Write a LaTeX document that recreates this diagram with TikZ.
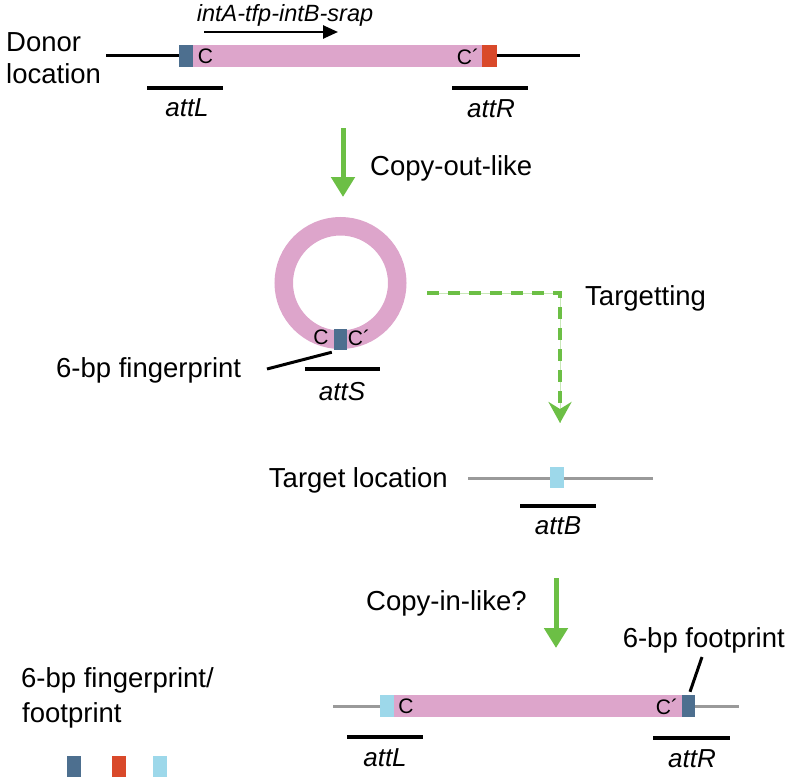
\documentclass[tikz,border=0pt]{standalone}
\usepackage{fontspec}
\setmainfont{Liberation Sans}
\usetikzlibrary{arrows.meta}
\definecolor{cpink}{HTML}{DDA5CB}
\definecolor{cblue}{HTML}{4D6F8F}
\definecolor{cred}{HTML}{D9492A}
\definecolor{clblue}{HTML}{9DD8EA}
\definecolor{cgreen}{HTML}{6CBF45}
\definecolor{cgray}{HTML}{9A9A9A}
\definecolor{cgreenl}{HTML}{C8E8B8}
\tikzset{
  lbl/.style={font=\fontsize{27.5}{32}\selectfont, inner sep=0pt},
  attlbl/.style={font=\fontsize{26}{30}\selectfont\itshape, inner sep=0pt},
  clbl/.style={font=\fontsize{21}{24}\selectfont, inner sep=0pt},
  site/.style={rectangle, draw=none, inner sep=0pt, minimum height=22pt},
  dna/.style={line width=3pt, black},
  gdna/.style={line width=3pt, cgray},
  attbar/.style={line width=3.5pt, black},
  ptr/.style={line width=3pt, black},
  garrow/.style={draw=cgreen, line width=5pt, -{Triangle[width=23pt,length=20pt]}},
  darrow/.style={draw=cgreen, line width=4.5pt, dash pattern=on 12pt off 9pt, -{Stealth[width=23pt,length=21pt,inset=7pt]}},
}
\begin{document}
\begin{tikzpicture}[x=1pt,y=-1pt]
\useasboundingbox (0,0) rectangle (786,779);

% ---------- Donor ----------
\node[lbl, anchor=base west] (donor1) at (6,51) {Donor};
\node[lbl, anchor=base west] (donor2) at (6,83) {location};
\coordinate (dL) at (106,55);
\coordinate (dR) at (580,55);
\draw[dna] (dL) -- (dR);
\node[site, fill=cpink, minimum width=289pt] (dbar) at (337.5,56) {};
\node[site, fill=cblue, minimum width=14pt] (dl) at (186,56) {};
\node[site, fill=cred, minimum width=15pt] (dr) at (489.5,56) {};
\node[clbl] (dc) at (205.5,56.5) {C};
\node[clbl] (dcp) at (468,56.5) {C\textasciiacute};
\node[font=\fontsize{23.5}{28}\selectfont\itshape, inner sep=0pt, anchor=base] (gene) at (285,21) {intA-tfp-intB-srap};
\coordinate (ga) at (204,32);
\coordinate (gb) at (338,32);
\draw[line width=2.5pt, -{Triangle[width=13pt,length=15pt]}] (ga) -- (gb);
\coordinate (aL1) at (147,88); \coordinate (aL2) at (223,88);
\draw[attbar] (aL1) -- (aL2);
\node[attlbl, anchor=base] (attL1) at (187,116) {attL};
\coordinate (aR1) at (452,88); \coordinate (aR2) at (528,88);
\draw[attbar] (aR1) -- (aR2);
\node[attlbl, anchor=base] (attR1) at (491,117) {attR};

% ---------- Copy-out ----------
\coordinate (g1a) at (343,128);
\coordinate (g1b) at (343,197);
\draw[garrow] (g1a) -- (g1b);
\node[lbl, anchor=base west] (copyout) at (370,175) {Copy-out-like};

% ---------- Circle ----------
\coordinate (cc) at (340.5,283);
\draw[cpink, line width=18.5pt] (cc) circle (56.75);
\node[site, fill=cblue, minimum width=13pt, minimum height=21pt] (cs) at (340.5,339.5) {};
\node[clbl] (cc1) at (321,337.5) {C};
\node[clbl] (cc2) at (359,337.5) {C\textasciiacute};
\node[lbl, anchor=base west] (fp) at (56,377) {6-bp fingerprint};
\coordinate (fpa) at (267,369);
\draw[ptr] (fpa) -- ([xshift=-2pt,yshift=-2pt]cs.south west);
\coordinate (aS1) at (305,369); \coordinate (aS2) at (380,369);
\draw[attbar] (aS1) -- (aS2);
\node[attlbl, anchor=base] (attS) at (342,400) {attS};

% ---------- Targetting ----------
\coordinate (t1) at (427,293);
\coordinate (t2) at (560,423);
\draw[cgreenl, line width=0.6pt] (t1) -| (t2);
\draw[darrow] (t1) -| (t2);
\node[lbl, anchor=base west] (targ) at (585,305) {Targetting};

% ---------- Target location ----------
\node[lbl, anchor=base east] (tloc) at (448,487) {Target location};
\coordinate (tL) at (468,478); \coordinate (tR) at (653,478);
\draw[gdna] (tL) -- (tR);
\node[site, fill=clblue, minimum width=14pt, minimum height=21pt] (tb) at (557,477.5) {};
\coordinate (aB1) at (520,506); \coordinate (aB2) at (596,506);
\draw[attbar] (aB1) -- (aB2);
\node[attlbl, anchor=base] (attB) at (558,534) {attB};

% ---------- Copy-in ----------
\coordinate (g2a) at (556,578);
\coordinate (g2b) at (556,648);
\draw[garrow] (g2a) -- (g2b);
\node[lbl, anchor=base west] (copyin) at (366,610) {Copy-in-like?};

% ---------- Product ----------
\coordinate (pL) at (333,706); \coordinate (pR) at (739,706);
\draw[gdna] (pL) -- (pR);
\node[site, fill=cpink, minimum width=288pt] (pbar) at (538,706) {};
\node[site, fill=clblue, minimum width=14pt] (pl) at (387,706) {};
\node[site, fill=cblue, minimum width=13pt] (pr) at (688.5,706) {};
\node[clbl] (pc) at (406,706.5) {C};
\node[clbl] (pcp) at (667,706.5) {C\textasciiacute};
\node[lbl, anchor=base east] (foot) at (785,647) {6-bp footprint};
\coordinate (fta) at (702,657);
\draw[ptr] (fta) -- ([xshift=1.5pt,yshift=3pt]pr.north);
\coordinate (pL1) at (347,737); \coordinate (pL2) at (423,737);
\draw[attbar] (pL1) -- (pL2);
\node[attlbl, anchor=base] (attL2) at (385,766) {attL};
\coordinate (pR1) at (653,738); \coordinate (pR2) at (730,738);
\draw[attbar] (pR1) -- (pR2);
\node[attlbl, anchor=base] (attR2) at (692,767) {attR};

% ---------- Legend ----------
\node[lbl, anchor=base west] (leg1) at (21,687) {6-bp fingerprint/};
\node[lbl, anchor=base west] (leg2) at (22,722) {footprint};
\node[site, fill=cblue, minimum width=14pt, minimum height=21pt] (s1) at (74,766.5) {};
\node[site, fill=cred, minimum width=14pt, minimum height=21pt] (s2) at (119,766.5) {};
\node[site, fill=clblue, minimum width=14pt, minimum height=21pt] (s3) at (160,766.5) {};
\end{tikzpicture}
\end{document}
